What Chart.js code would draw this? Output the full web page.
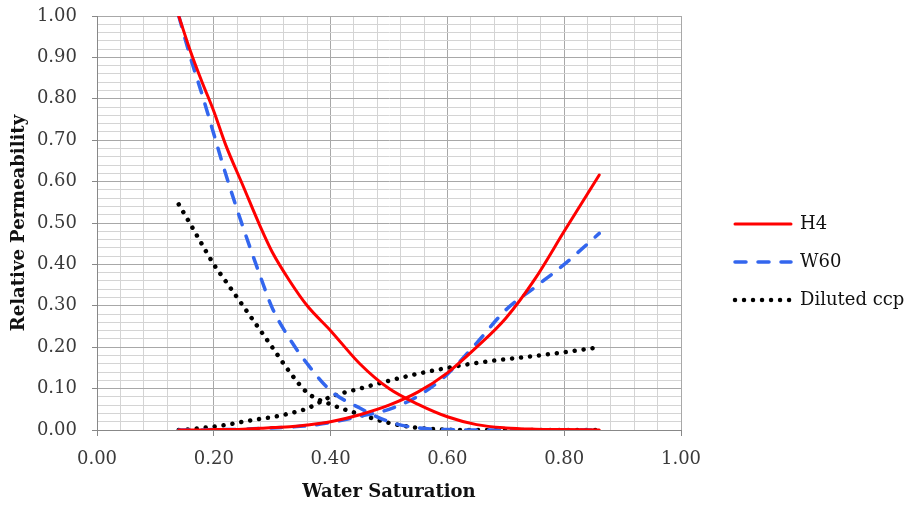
<!DOCTYPE html>
<html>
<head>
<meta charset="utf-8">
<script src="https://cdn.jsdelivr.net/npm/chart.js@4.4.1/dist/chart.umd.min.js"></script>
<style>
  html, body { margin: 0; padding: 0; background: #fff; }
  #chart { display: block; }
</style>
</head>
<body>
<canvas id="chart" width="905" height="507"></canvas>
<script>
// water saturation (x) shared by all curves
const sw = [0.14, 0.16, 0.18, 0.20, 0.22, 0.25, 0.28, 0.30, 0.33, 0.36, 0.40, 0.45, 0.50, 0.55, 0.60, 0.65, 0.70, 0.75, 0.80, 0.86];

// oil relative permeability
const h4Oil = [1.00, 0.915, 0.84, 0.77, 0.69, 0.59, 0.49, 0.43, 0.36, 0.30, 0.24, 0.16, 0.10, 0.062, 0.032, 0.013, 0.005, 0.002, 0.001, 0.000];
const w60Oil = [1.00, 0.90, 0.81, 0.715, 0.62, 0.49, 0.37, 0.295, 0.22, 0.16, 0.095, 0.053, 0.02, 0.005, 0.001, 0, 0, 0, 0, 0];
const ccpOil = [0.545, 0.497, 0.448, 0.40, 0.36, 0.30, 0.24, 0.20, 0.14, 0.09, 0.062, 0.038, 0.017, 0.005, 0.001, 0, 0, 0, 0, 0];

// water relative permeability
const h4Water = [0, 0, 0, 0.001, 0.001, 0.002, 0.004, 0.006, 0.008, 0.012, 0.02, 0.037, 0.06, 0.092, 0.138, 0.20, 0.27, 0.365, 0.48, 0.616];
const w60Water = [0, 0, 0, 0.001, 0.001, 0.002, 0.004, 0.005, 0.007, 0.01, 0.018, 0.033, 0.05, 0.082, 0.135, 0.21, 0.29, 0.345, 0.40, 0.475];
const ccpWater = [0, 0.002, 0.005, 0.008, 0.012, 0.02, 0.027, 0.031, 0.04, 0.052, 0.08, 0.10, 0.119, 0.136, 0.15, 0.162, 0.171, 0.179, 0.188, 0.20];

const seriesNames = ["H4", "W60", "Diluted ccp"];

const FONT = "'DejaVu Serif', serif";
Chart.defaults.font.family = FONT;

const isStep = (v, step) => Math.abs(v / step - Math.round(v / step)) < 1e-6;
const pts = (ys) => sw.map((x, i) => ({ x: x, y: ys[i] }));

const styles = [
  { borderColor: "#ff0000", borderWidth: 3, borderDash: [], borderCapStyle: "round" },
  { borderColor: "#3366ee", borderWidth: 3.5, borderDash: [11, 12], borderCapStyle: "round" },
  { borderColor: "#000000", borderWidth: 4.5, borderDash: [0.01, 9], borderCapStyle: "round" },
];

const makeSet = (label, ys, style) => Object.assign({
  label: label,
  data: pts(ys),
  showLine: true,
  fill: false,
  pointRadius: 0,
  cubicInterpolationMode: "monotone",
}, style);

const sideLegend = {
  id: "sideLegend",
  afterDraw: (chart) => {
    const ctx = chart.ctx;
    const x0 = chart.chartArea.right + 54;
    seriesNames.forEach((name, i) => {
      const s = styles[i];
      const y = 224 + i * 38;
      ctx.save();
      ctx.strokeStyle = s.borderColor;
      ctx.lineWidth = s.borderWidth;
      ctx.lineCap = s.borderCapStyle;
      ctx.setLineDash(s.borderDash);
      ctx.beginPath();
      ctx.moveTo(x0, y);
      ctx.lineTo(x0 + 56, y);
      ctx.stroke();
      ctx.restore();
      ctx.save();
      ctx.fillStyle = "#111";
      ctx.font = "18px " + FONT;
      ctx.textBaseline = "middle";
      ctx.fillText(name, x0 + 65, y);
      ctx.restore();
    });
  }
};

const canvas = document.getElementById("chart");
new Chart(canvas, {
  type: "scatter",
  data: {
    datasets: [
      makeSet("H4", h4Oil, styles[0]),
      makeSet("H4", h4Water, styles[0]),
      makeSet("W60", w60Oil, styles[1]),
      makeSet("W60", w60Water, styles[1]),
      makeSet("Diluted ccp", ccpOil, styles[2]),
      makeSet("Diluted ccp", ccpWater, styles[2]),
    ]
  },
  options: {
    responsive: false,
    animation: false,
    events: [],
    layout: { padding: { top: 16, right: 224, bottom: 0, left: 0 } },
    plugins: {
      legend: { display: false },
      tooltip: { enabled: false },
    },
    scales: {
      x: {
        type: "linear",
        min: 0,
        max: 1,
        afterFit: (s) => { s.height = 77; },
        ticks: {
          stepSize: 0.04,
          autoSkip: false,
          maxRotation: 0,
          padding: 13,
          color: "#3a3a3a",
          font: { size: 18 },
          callback: (v) => isStep(v, 0.2) ? v.toFixed(2) : "",
        },
        grid: {
          tickLength: 6,
          color: (c) => isStep(c.tick.value, 0.2) ? "#a8a8a8" : "#d4d4d4",
          tickColor: (c) => isStep(c.tick.value, 0.2) ? "#888" : "rgba(0,0,0,0)",
        },
        border: { color: "#888" },
        title: {
          display: true,
          text: "Water Saturation",
          color: "#111",
          font: { size: 18, weight: "bold" },
          padding: { top: 0, bottom: 4 },
        },
      },
      y: {
        type: "linear",
        min: 0,
        max: 1,
        afterFit: (s) => { s.width = 97; s.paddingTop = 0; s.paddingBottom = 0; },
        ticks: {
          stepSize: 0.02,
          autoSkip: false,
          padding: 15,
          color: "#3a3a3a",
          font: { size: 18 },
          callback: (v) => isStep(v, 0.1) ? v.toFixed(2) : "",
        },
        grid: {
          tickLength: 5,
          color: (c) => isStep(c.tick.value, 0.1) ? "#a8a8a8" : "#d4d4d4",
          tickColor: (c) => isStep(c.tick.value, 0.1) ? "#888" : "rgba(0,0,0,0)",
        },
        border: { color: "#888" },
        title: {
          display: true,
          text: "Relative Permeability",
          color: "#111",
          font: { size: 18, weight: "bold" },
          padding: { top: 9, bottom: 0 },
        },
      },
    },
  },
  plugins: [sideLegend],
});
</script>
</body>
</html>
